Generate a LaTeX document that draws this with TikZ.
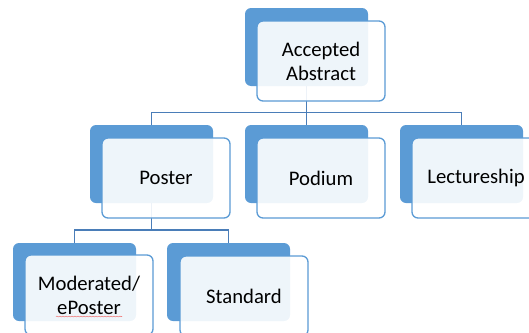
\documentclass[tikz,border=0pt]{standalone}
\usepackage{fontspec}
\setmainfont{Carlito}
\usetikzlibrary{decorations.pathmorphing}
\definecolor{accblue}{HTML}{5B9BD5}
\definecolor{connblue}{HTML}{4A7DB8}
\definecolor{spellred}{HTML}{F08080}
\tikzset{
  backbox/.style={fill=accblue, draw=none, rounded corners=6pt, minimum width=123pt, minimum height=78pt, inner sep=0pt, outer sep=0pt, anchor=north west},
  frontbox/.style={fill=white, fill opacity=0.9, text opacity=1, draw=accblue, line width=1.3pt, rounded corners=6pt, minimum width=128pt, minimum height=80pt, inner sep=0pt, outer sep=0pt, anchor=north west, align=center, font=\fontsize{20.7pt}{24pt}\selectfont, text=black},
  conn/.style={draw=connblue, line width=1.4pt},
  spell/.style={draw=spellred, line width=0.6pt, decorate, decoration={snake, amplitude=0.4pt, segment length=3pt}}
}
\begin{document}
\begin{tikzpicture}[x=1pt,y=-1pt]
\useasboundingbox (0,0) rectangle (529,332);
\begin{scope}
\clip (0,0) rectangle (529,332);
% back boxes
\node[backbox] (b1) at (245,8) {};
\node[backbox] (b2) at (90,125) {};
\node[backbox] (b3) at (245,125) {};
\node[backbox] (b4) at (400,125) {};
\node[backbox] (b5) at (13,243) {};
\node[backbox] (b6) at (167,243) {};
% connectors
\coordinate (h1) at (306.5,112.5);
\coordinate (h2) at (151.5,230);
\draw[conn] (b1.south) -- (h1);
\draw[conn] (b2.north) |- (h1) -| (b4.north);
\draw[conn] (h1) -- (b3.north);
\draw[conn] (b2.south) -- (h2);
\draw[conn] (b5.north) |- (h2) -| (b6.north);
% front boxes
\node[frontbox] (f1) at (257,21) {Accepted\\Abstract};
\node[frontbox] (f2) at (102,138) {Poster};
\node[frontbox] (f3) at (257,138) {Podium};
\node[frontbox] (f4) at (412,138) {Lectureship};
\node[frontbox] (f5) at (25,255) {Moderated/\\ePoster};
\node[frontbox] (f6) at (180,256) {Standard};
% spell-check underline
\coordinate (u1) at (56,316.5);
\coordinate (u2) at (122,316.5);
\draw[spell] (u1) -- (u2);
\end{scope}
\end{tikzpicture}
\end{document}
